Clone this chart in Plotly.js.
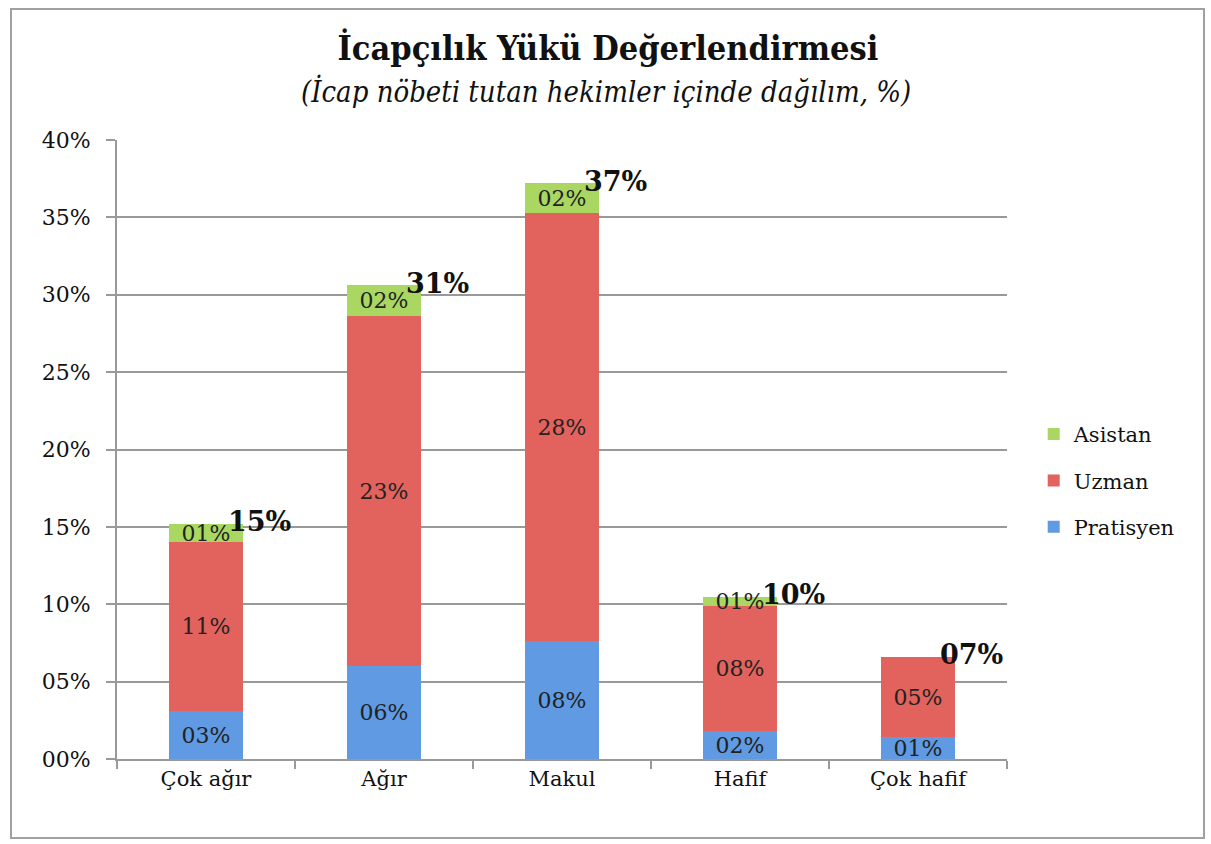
<!DOCTYPE html>
<html><head><meta charset="utf-8">
<script src="https://cdn.plot.ly/plotly-3.0.1.min.js"></script>
<style>
html,body{margin:0;padding:0;background:#fff;}
#wrap{position:relative;width:1211px;height:844px;}
#chart{width:1211px;height:844px;}
#frame{position:absolute;left:10px;top:8px;width:1191px;height:827px;border:2px solid #a0a0a0;pointer-events:none;}
</style></head>
<body><div id="wrap"><div id="chart"></div><div id="frame"></div></div>
<script>
const categories = ["Çok ağır", "Ağır", "Makul", "Hafif", "Çok hafif"];
const pratisyen = [3.1, 6.0, 7.6, 1.8, 1.4];
const uzman = [10.9, 22.6, 27.7, 8.1, 5.2];
const asistan = [1.2, 2.0, 1.9, 0.6, null];
const totals = [15, 31, 37, 10, 7];
const seriesNames = ["Pratisyen", "Uzman", "Asistan"];
const seriesColors = ["#5f9ae2", "#e2625d", "#a9d762"];

const serif = "DejaVu Serif, Liberation Serif, serif";
const cond = "DejaVu Serif Condensed, DejaVu Serif, serif";
const series = [pratisyen, uzman, asistan];
const traces = series.map((vals, i) => ({
  type: "bar",
  name: seriesNames[i],
  x: categories,
  y: vals,
  legendgroup: seriesNames[i],
  legendrank: 3 - i,
  marker: {color: seriesColors[i], line: {width: 0}},
  texttemplate: "%{y:02.0f}%",
  textposition: "inside",
  insidetextanchor: "middle",
  constraintext: "none",
  cliponaxis: false,
  textfont: {family: serif, size: 22, color: "#222"},
  hoverinfo: "x+y+name"
}));

const annotations = categories.map((c, i) => ({
  x: c, y: (pratisyen[i] || 0) + (uzman[i] || 0) + (asistan[i] || 0),
  xref: "x", yref: "y",
  text: String(totals[i]).padStart(2, "0") + "%",
  showarrow: false,
  xanchor: "left", yanchor: "middle",
  xshift: 20, yshift: 2,
  font: {family: serif, size: 27, color: "#111", weight: "bold"}
}));
annotations.push({
  xref: "paper", yref: "paper", x: 0.549, y: 1,
  xanchor: "center", yanchor: "bottom", yshift: 29,
  text: "<i>(İcap nöbeti tutan hekimler içinde dağılım, %)</i>",
  showarrow: false,
  font: {family: cond, size: 29, color: "#111"}
});

const layout = {
  width: 1211, height: 844,
  margin: {l: 117, r: 204, t: 140, b: 85},
  paper_bgcolor: "#fff", plot_bgcolor: "#fff",
  barmode: "stack",
  bargap: 0.58,
  title: {text: "<b>İcapçılık Yükü Değerlendirmesi</b>", x: 0.502, xref: "container", y: 0.943, yref: "container", yanchor: "middle",
    font: {family: cond, size: 34, color: "#111"}},
  xaxis: {type: "category", showline: true, linecolor: "#999", linewidth: 2,
    ticks: "outside", tickson: "boundaries", ticklen: 8, tickcolor: "#999", tickwidth: 2,
    tickfont: {family: serif, size: 21, color: "#111"}, showgrid: false, ticklabelstandoff: 0},
  yaxis: {range: [0, 40], dtick: 5, tickformat: "02.0f", ticksuffix: "%",
    showline: true, linecolor: "#999", linewidth: 2, ticks: "outside", ticklen: 9, tickcolor: "#999", tickwidth: 2,
    showgrid: true, gridcolor: "#999", gridwidth: 2, zeroline: false,
    tickfont: {family: serif, size: 22, color: "#111"}, ticklabelstandoff: 11},
  legend: {x: 1.03, xanchor: "left", y: 0.45, yanchor: "middle", traceorder: "grouped",
    tracegroupgap: 16, font: {family: serif, size: 21, color: "#111"}, itemwidth: 30},
  annotations: annotations,
  showlegend: true
};
Plotly.newPlot("chart", traces, layout, {displayModeBar: false, responsive: false});
</script></body></html>
